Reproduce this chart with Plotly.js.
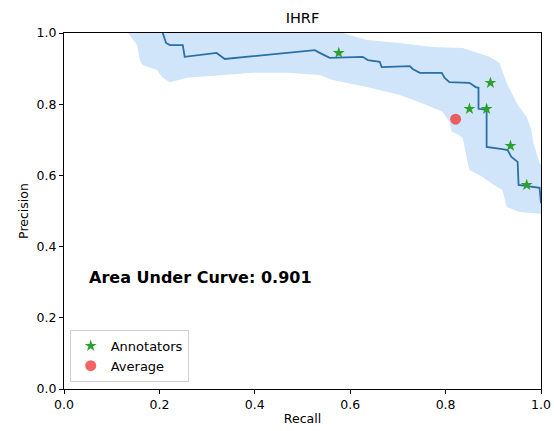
<!DOCTYPE html>
<html>
<head>
<meta charset="utf-8">
<script src="https://cdn.plot.ly/plotly-3.0.1.min.js"></script>
<style>html,body{margin:0;padding:0;background:#fff;}#chart{width:554px;height:431px;}</style>
</head>
<body>
<div id="chart"></div>
<script>
// Precision-recall curve
const curveRecall = [0.207,0.214,0.222,0.249,0.253,0.320,0.337,0.526,0.532,0.557,0.626,0.637,0.662,0.666,0.725,0.731,0.746,0.792,0.798,0.808,0.850,0.863,0.869,0.869,0.886,0.886,0.919,0.930,0.938,0.951,0.953,0.970,0.997,1.0];
const curvePrecision = [1.0,0.972,0.966,0.966,0.933,0.944,0.927,0.952,0.947,0.930,0.933,0.924,0.919,0.904,0.907,0.899,0.888,0.888,0.874,0.862,0.860,0.848,0.846,0.787,0.784,0.680,0.674,0.671,0.652,0.638,0.573,0.570,0.565,0.522];

// Confidence band, upper edge (left to right)
const bandUpperRecall = [0.12,0.55,0.584,0.635,0.704,0.773,0.836,0.892,0.913,0.928,0.949,0.970,0.980,0.984,0.997,1.007];
const bandUpperPrecision = [1.05,1.03,1.0,0.980,0.972,0.961,0.958,0.933,0.916,0.860,0.803,0.764,0.728,0.691,0.635,0.615];
// Confidence band, lower edge (left to right)
const bandLowerRecall = [0.125,0.138,0.153,0.159,0.165,0.195,0.207,0.222,0.258,0.327,0.396,0.467,0.536,0.563,0.635,0.704,0.760,0.794,0.808,0.813,0.825,0.836,0.844,0.850,0.877,0.898,0.919,0.928,0.955,0.997,1.018];
const bandLowerPrecision = [1.02,0.994,0.966,0.924,0.910,0.896,0.874,0.862,0.874,0.882,0.888,0.888,0.882,0.868,0.848,0.826,0.798,0.778,0.750,0.722,0.716,0.705,0.652,0.615,0.596,0.576,0.559,0.511,0.497,0.492,0.492];

// Annotators and average
const annotRecall = [0.576,0.850,0.886,0.894,0.936,0.970];
const annotPrecision = [0.944,0.787,0.787,0.860,0.683,0.573];
const avgRecall = [0.821];
const avgPrecision = [0.758];

const aucText = "Area Under Curve: 0.901";
const tickVals = [0,0.2,0.4,0.6,0.8,1.0];
const tickText = ["0.0","0.2","0.4","0.6","0.8","1.0"];

const bandX = bandUpperRecall.concat(bandLowerRecall.slice().reverse());
const bandY = bandUpperPrecision.concat(bandLowerPrecision.slice().reverse());

const traces = [
  {x: bandX, y: bandY, type: 'scatter', mode: 'lines', fill: 'toself',
   fillcolor: '#d0e5fa', line: {width: 0, color: 'rgba(0,0,0,0)'}, showlegend: false, hoverinfo: 'skip'},
  {x: curveRecall, y: curvePrecision, type: 'scatter', mode: 'lines',
   line: {color: '#2a6fa8', width: 1.8}, showlegend: false},
  {x: annotRecall, y: annotPrecision, type: 'scatter', mode: 'markers', name: 'Annotators',
   marker: {symbol: 'star', color: '#2ca02c', size: 9, line: {width: 0}}},
  {x: avgRecall, y: avgPrecision, type: 'scatter', mode: 'markers', name: 'Average',
   marker: {symbol: 'circle', color: 'rgba(240,60,60,0.8)', size: 11, line: {width: 0}}}
];

const axisCommon = {
  range: [0,1], tickvals: tickVals, ticktext: tickText, ticks: 'outside', ticklen: 4, tickwidth: 1,
  tickcolor: '#000', showline: true, linecolor: '#000', linewidth: 1, mirror: true,
  showgrid: false, zeroline: false, tickfont: {family: 'DejaVu Sans', size: 12.5, color: '#000'}
};

const layout = {
  width: 554, height: 431,
  margin: {l: 64, r: 13, t: 33, b: 42},
  paper_bgcolor: '#fff', plot_bgcolor: '#fff',
  font: {family: 'DejaVu Sans', color: '#000'},
  title: {text: 'IHRF', font: {family: 'DejaVu Sans', size: 14.5, color: '#000'}, x: 0.546, xanchor: 'center', y: 0.958, yanchor: 'middle'},
  xaxis: Object.assign({}, axisCommon, {title: {text: 'Recall', font: {size: 12.5, family: 'DejaVu Sans'}, standoff: 3}}),
  yaxis: Object.assign({}, axisCommon, {title: {text: 'Precision', font: {size: 12.5, family: 'DejaVu Sans'}, standoff: 5}}),
  legend: {x: 0.012, y: 0.02, xanchor: 'left', yanchor: 'bottom', bgcolor: 'rgba(255,255,255,0.85)',
           bordercolor: '#d0d0d0', borderwidth: 1, font: {family: 'DejaVu Sans', size: 13, color: '#000'},
           tracegroupgap: 0},
  annotations: [{x: 0.048, y: 0.312, xref: 'x', yref: 'y', text: '<b>' + aucText + '</b>', showarrow: false,
                 xanchor: 'left', yanchor: 'middle', font: {family: 'DejaVu Sans', size: 16, color: '#000'}}],
  showlegend: true
};

Plotly.newPlot('chart', traces, layout, {displayModeBar: false, staticPlot: true});
</script>
</body>
</html>
